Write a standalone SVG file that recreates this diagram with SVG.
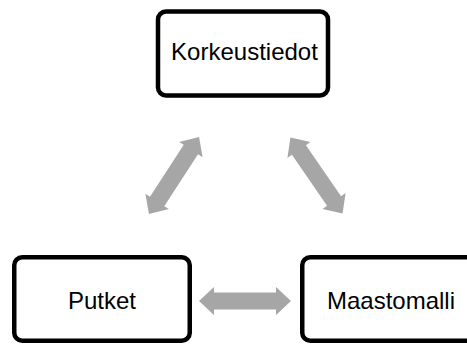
<svg xmlns="http://www.w3.org/2000/svg" width="467" height="347" viewBox="0 0 467 347">
<style>
.box{fill:#fff;stroke:#000;stroke-width:4.5}
.lbl{font-family:"Liberation Sans",Arial,sans-serif;font-size:24px;fill:#000;text-anchor:middle}
.arr{fill:#a6a6a6;stroke:none}
</style>
<defs>
<path id="dbl" d="M -46 0 L -31 -14 L -31 -8.5 L 31 -8.5 L 31 -14 L 46 0 L 31 14 L 31 8.5 L -31 8.5 L -31 14 Z"/>
</defs>
<rect width="467" height="347" fill="#fff"/>
<g id="connectors">
<use href="#dbl" class="arr" transform="translate(174 175.5) rotate(-57)"/>
<use href="#dbl" class="arr" transform="translate(316.5 175.5) rotate(55.5)"/>
<use href="#dbl" class="arr" transform="translate(245 301)"/>
</g>
<g id="korkeustiedot">
<rect class="box" x="158" y="11.5" width="170" height="84" rx="8"/>
<text class="lbl" x="244.5" y="60">Korkeustiedot</text>
</g>
<g id="putket">
<rect class="box" x="14.25" y="257.25" width="175.5" height="83.5" rx="8"/>
<text class="lbl" x="102" y="309">Putket</text>
</g>
<g id="maastomalli">
<rect class="box" x="302.25" y="257.25" width="177" height="83.5" rx="8"/>
<text class="lbl" x="391" y="309">Maastomalli</text>
</g>
</svg>
